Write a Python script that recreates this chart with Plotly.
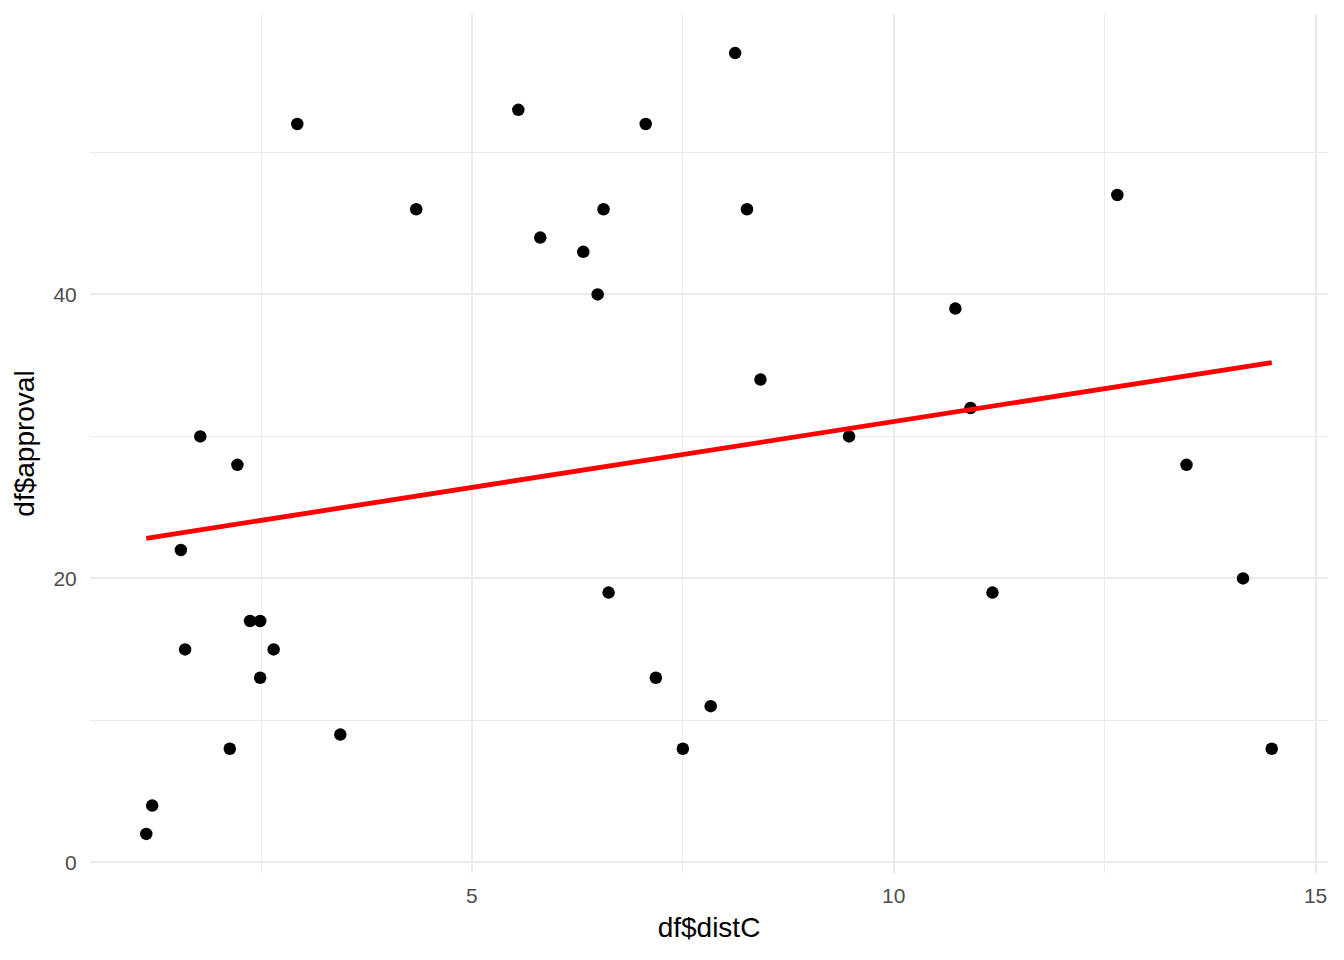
import numpy as np
import plotly.graph_objects as go

distC = [1.14, 1.21, 1.55, 1.60, 1.78, 2.13, 2.22, 2.37, 2.49, 2.49, 2.65, 2.93,
         3.44, 4.34, 5.55, 5.81, 6.32, 6.49, 6.56, 6.62, 7.06, 7.18, 7.50, 7.83,
         8.12, 8.26, 8.42, 9.47, 10.73, 10.91, 11.17, 12.65, 13.47, 14.14, 14.48]
approval = [2, 4, 22, 15, 30, 8, 28, 17, 17, 13, 15, 52,
            9, 46, 53, 44, 43, 40, 46, 19, 52, 13, 8, 11,
            57, 46, 34, 30, 39, 32, 19, 47, 28, 20, 8]

x = np.array(distC)
y = np.array(approval)
slope, intercept = np.polyfit(x, y, 1)
line_x = np.array([x.min(), x.max()])
line_y = intercept + slope * line_x

fig = go.Figure()
fig.add_trace(go.Scatter(x=distC, y=approval, mode="markers",
                         marker=dict(color="black", size=12.5, line=dict(width=0)),
                         showlegend=False, hoverinfo="x+y"))
fig.add_trace(go.Scatter(x=line_x, y=line_y, mode="lines",
                         line=dict(color="#FF0000", width=4.8),
                         showlegend=False))

font_family = "Liberation Sans, Arial, sans-serif"
fig.update_layout(
    width=1336, height=952,
    margin=dict(l=82, r=16, t=6, b=87),
    paper_bgcolor="white", plot_bgcolor="white",
    font=dict(family=font_family),
)
fig.update_xaxes(
    range=[0.473, 15.147], tickvals=[5, 10, 15], ticktext=["5", "10", "15"],
    showgrid=True, gridcolor="#EBEBEB", gridwidth=2.2,
    minor=dict(tickvals=[2.5, 7.5, 12.5], showgrid=True, gridcolor="#EBEBEB", gridwidth=1.1),
    zeroline=False, showline=False,
    ticks="outside", ticklen=4, tickcolor="rgba(0,0,0,0)",
    tickfont=dict(size=21, color="#4D4D4D", family=font_family),
    title=dict(text="df$distC", font=dict(size=28, color="black", family=font_family), standoff=11),
)
fig.update_yaxes(
    range=[-0.75, 59.75], tickvals=[0, 20, 40], ticktext=["0", "20", "40"],
    showgrid=True, gridcolor="#EBEBEB", gridwidth=2.2,
    minor=dict(tickvals=[10, 30, 50], showgrid=True, gridcolor="#EBEBEB", gridwidth=1.1),
    zeroline=False, showline=False,
    ticks="outside", ticklen=8, tickcolor="rgba(0,0,0,0)",
    tickfont=dict(size=21, color="#4D4D4D", family=font_family),
    title=dict(text="df$approval", font=dict(size=28, color="black", family=font_family), standoff=10),
)
fig.write_html("out.html")
